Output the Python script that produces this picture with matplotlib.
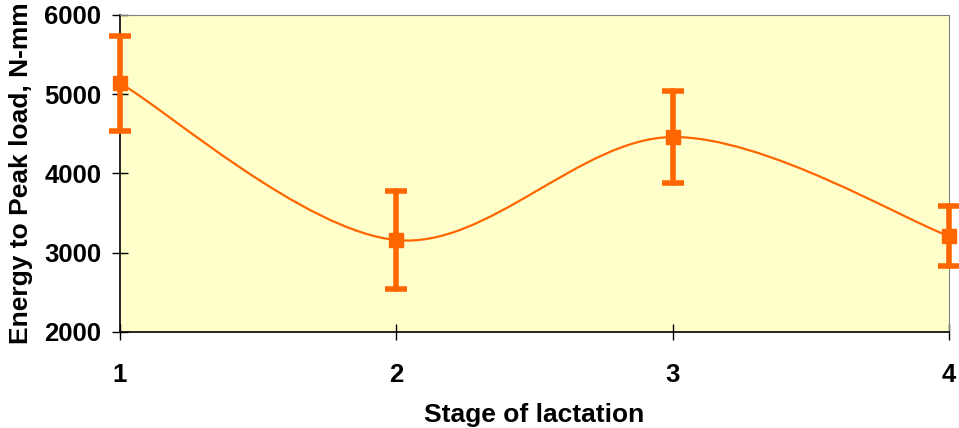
import numpy as np
import matplotlib.pyplot as plt
from matplotlib.path import Path
from matplotlib.patches import PathPatch

stage = [1, 2, 3, 4]
energy = [5140, 3160, 4460, 3210]
err = [600, 620, 580, 380]

orange = '#FF6600'

plt.rcParams['font.family'] = ['Liberation Sans', 'DejaVu Sans']
plt.rcParams['font.weight'] = 'bold'

fig = plt.figure(figsize=(9.59, 4.28), dpi=100)
ax = fig.add_axes([0.1251, 0.2243, 0.8645, 0.7407])
ax.set_facecolor('#FFFFCC')

# smoothed line like Excel (Catmull-Rom -> cubic Bezier)
x = np.array(stage, dtype=float)
y = np.array(energy, dtype=float)
xp = np.r_[x[0], x, x[-1]]
yp = np.r_[y[0], y, y[-1]]
verts = [(x[0], y[0])]
codes = [Path.MOVETO]
for i in range(len(x) - 1):
    c1 = (xp[i+1] + (xp[i+2] - xp[i]) / 6, yp[i+1] + (yp[i+2] - yp[i]) / 6)
    c2 = (xp[i+2] - (xp[i+3] - xp[i+1]) / 6, yp[i+2] - (yp[i+3] - yp[i+1]) / 6)
    verts += [c1, c2, (x[i+1], y[i+1])]
    codes += [Path.CURVE4] * 3
ax.add_patch(PathPatch(Path(verts, codes), fill=False, edgecolor=orange, lw=1.6))

eb = ax.errorbar(stage, energy, yerr=err, fmt='s', color=orange, ms=10,
                 elinewidth=4, capsize=8, capthick=4, clip_on=False, zorder=3)
for art in eb.lines[1] + eb.lines[2]:
    art.set_clip_on(False)
for c in eb.lines[1]:
    c.set_solid_capstyle('round')
for c in eb.lines[2]:
    c.set_capstyle('round')

ax.set_xlim(1, 4)
ax.set_ylim(2000, 6000)
ax.set_xticks(stage)
ax.set_yticks([2000, 3000, 4000, 5000, 6000])

for s in ['top', 'right']:
    ax.spines[s].set_color('#808080')
for s in ['left', 'bottom']:
    ax.spines[s].set_color('black')
    ax.spines[s].set_linewidth(1.2)

ax.tick_params(axis='y', direction='inout', length=11, width=1, labelsize=18.5, pad=8)
ax.tick_params(axis='x', direction='inout', length=12, width=1, labelsize=18.5, pad=16)

ax.set_xlabel('Stage of lactation', fontsize=19, fontweight='bold', labelpad=12)
ax.set_ylabel('Energy to Peak load, N-mm', fontsize=19, fontweight='bold', labelpad=8)

fig.savefig('out.png', dpi=100)
